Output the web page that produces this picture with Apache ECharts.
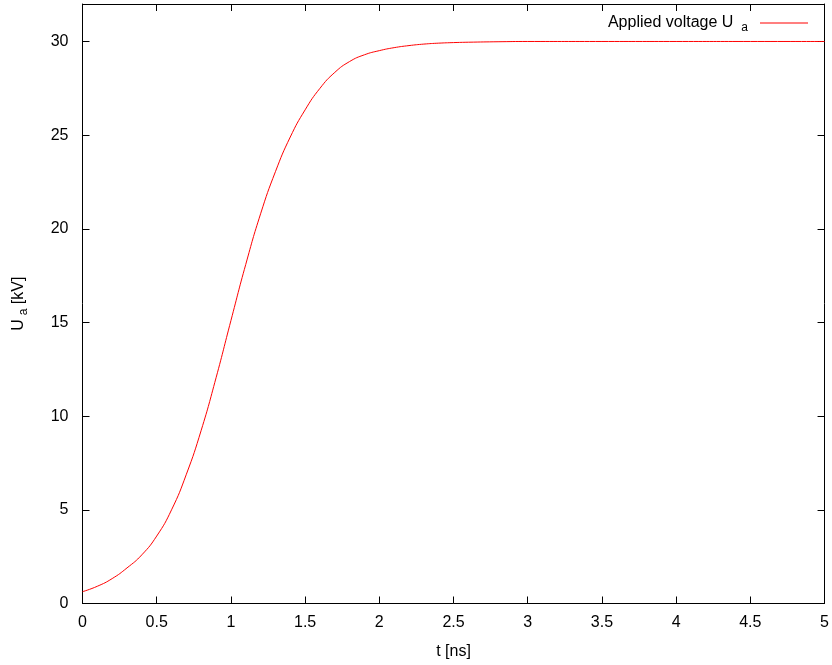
<!DOCTYPE html>
<html>
<head>
<meta charset="utf-8">
<script src="https://cdn.jsdelivr.net/npm/echarts@6/dist/echarts.min.js"></script>
<style>
html,body{margin:0;padding:0;background:#fff;}
#chart{width:832px;height:665px;}
</style>
</head>
<body>
<div id="chart"></div>
<script>
// Data
var tValues = [0, 0.1, 0.2, 0.3, 0.4, 0.5, 0.6, 0.7, 0.8, 0.9, 1.0, 1.1, 1.2, 1.3, 1.4, 1.5, 1.6, 1.7, 1.8, 1.9, 2.0, 2.1, 2.2, 2.3, 2.4, 2.5, 2.6, 2.8, 3.0, 3.5, 4.0, 4.5, 5.0];
var uValues = [0.63, 0.92, 1.33, 1.9, 2.6, 3.6, 5.0, 6.9, 9.25, 12.05, 15.1, 18.1, 20.8, 23.05, 24.9, 26.35, 27.5, 28.35, 28.93, 29.29, 29.51, 29.67, 29.78, 29.86, 29.91, 29.94, 29.96, 29.985, 30, 30, 30, 30, 30];
var xTicks = [0, 0.5, 1, 1.5, 2, 2.5, 3, 3.5, 4, 4.5, 5];
var yTicks = [0, 5, 10, 15, 20, 25, 30];
var seriesName = 'Applied voltage U_a';

var chart = echarts.init(document.getElementById('chart'));
var seriesData = tValues.map(function (t, i) { return [t, uValues[i]]; });
var font = 'Liberation Sans';
var axisColor = '#000';

function baseX(pos, showLabel) {
  return {
    type: 'value', position: pos, min: 0, max: 5, interval: 0.5,
    axisLine: { show: true, onZero: false, lineStyle: { color: axisColor, width: 1 } },
    axisTick: { show: true, inside: true, length: 7, lineStyle: { color: axisColor }, customValues: xTicks },
    axisLabel: { show: showLabel, customValues: xTicks, color: '#000', fontFamily: font, fontSize: 16, margin: 11 },
    splitLine: { show: false }
  };
}
function baseY(pos, showLabel) {
  return {
    type: 'value', position: pos, min: 0, max: 32, interval: 5,
    axisLine: { show: true, onZero: false, lineStyle: { color: axisColor, width: 1 } },
    axisTick: { show: true, inside: true, length: 7, lineStyle: { color: axisColor }, customValues: yTicks },
    axisLabel: { show: showLabel, customValues: yTicks, color: '#000', fontFamily: font, fontSize: 16, margin: 14 },
    splitLine: { show: false }
  };
}

var xb = baseX('bottom', true);
xb.name = 't [ns]';
xb.nameLocation = 'middle';
xb.nameGap = 40;
xb.nameTextStyle = { color: '#000', fontFamily: font, fontSize: 16 };
var xt = baseX('top', false);

var yl = baseY('left', true);
yl.name = '{n|U}{s|a}{n| [kV]}';
yl.nameLocation = 'middle';
yl.nameGap = 53;
yl.nameTextStyle = {
  color: '#000', fontFamily: font, fontSize: 16,
  rich: {
    n: { fontFamily: font, fontSize: 16, color: '#000' },
    s: { fontFamily: font, fontSize: 12, color: '#000', padding: [9, 0, 0, 4] }
  }
};
var yr = baseY('right', false);

chart.setOption({
  animation: false,
  backgroundColor: '#fff',
  grid: { left: 82.5, right: 3.5, top: 4, bottom: 61.5, containLabel: false },
  legend: {
    show: true,
    right: 19, top: 10,
    align: 'right',
    icon: 'rect',
    itemWidth: 48, itemHeight: 1, itemGap: 10,
    data: [seriesName],
    formatter: function () { return '{n|Applied voltage U}{s|a}'; },
    textStyle: {
      color: '#000', fontFamily: font, fontSize: 16,
      rich: {
        n: { fontFamily: font, fontSize: 16, color: '#000' },
        s: { fontFamily: font, fontSize: 12, color: '#000', padding: [9, 7, 0, 8] }
      }
    }
  },
  xAxis: [xb, xt],
  yAxis: [yl, yr],
  series: [{
    name: seriesName,
    type: 'line',
    xAxisIndex: 0, yAxisIndex: 0,
    data: seriesData,
    smooth: 0.5,
    showSymbol: false,
    symbol: 'none',
    lineStyle: { color: '#ff0000', width: 1 },
    itemStyle: { color: '#ff0000' }
  }]
});
</script>
</body>
</html>
